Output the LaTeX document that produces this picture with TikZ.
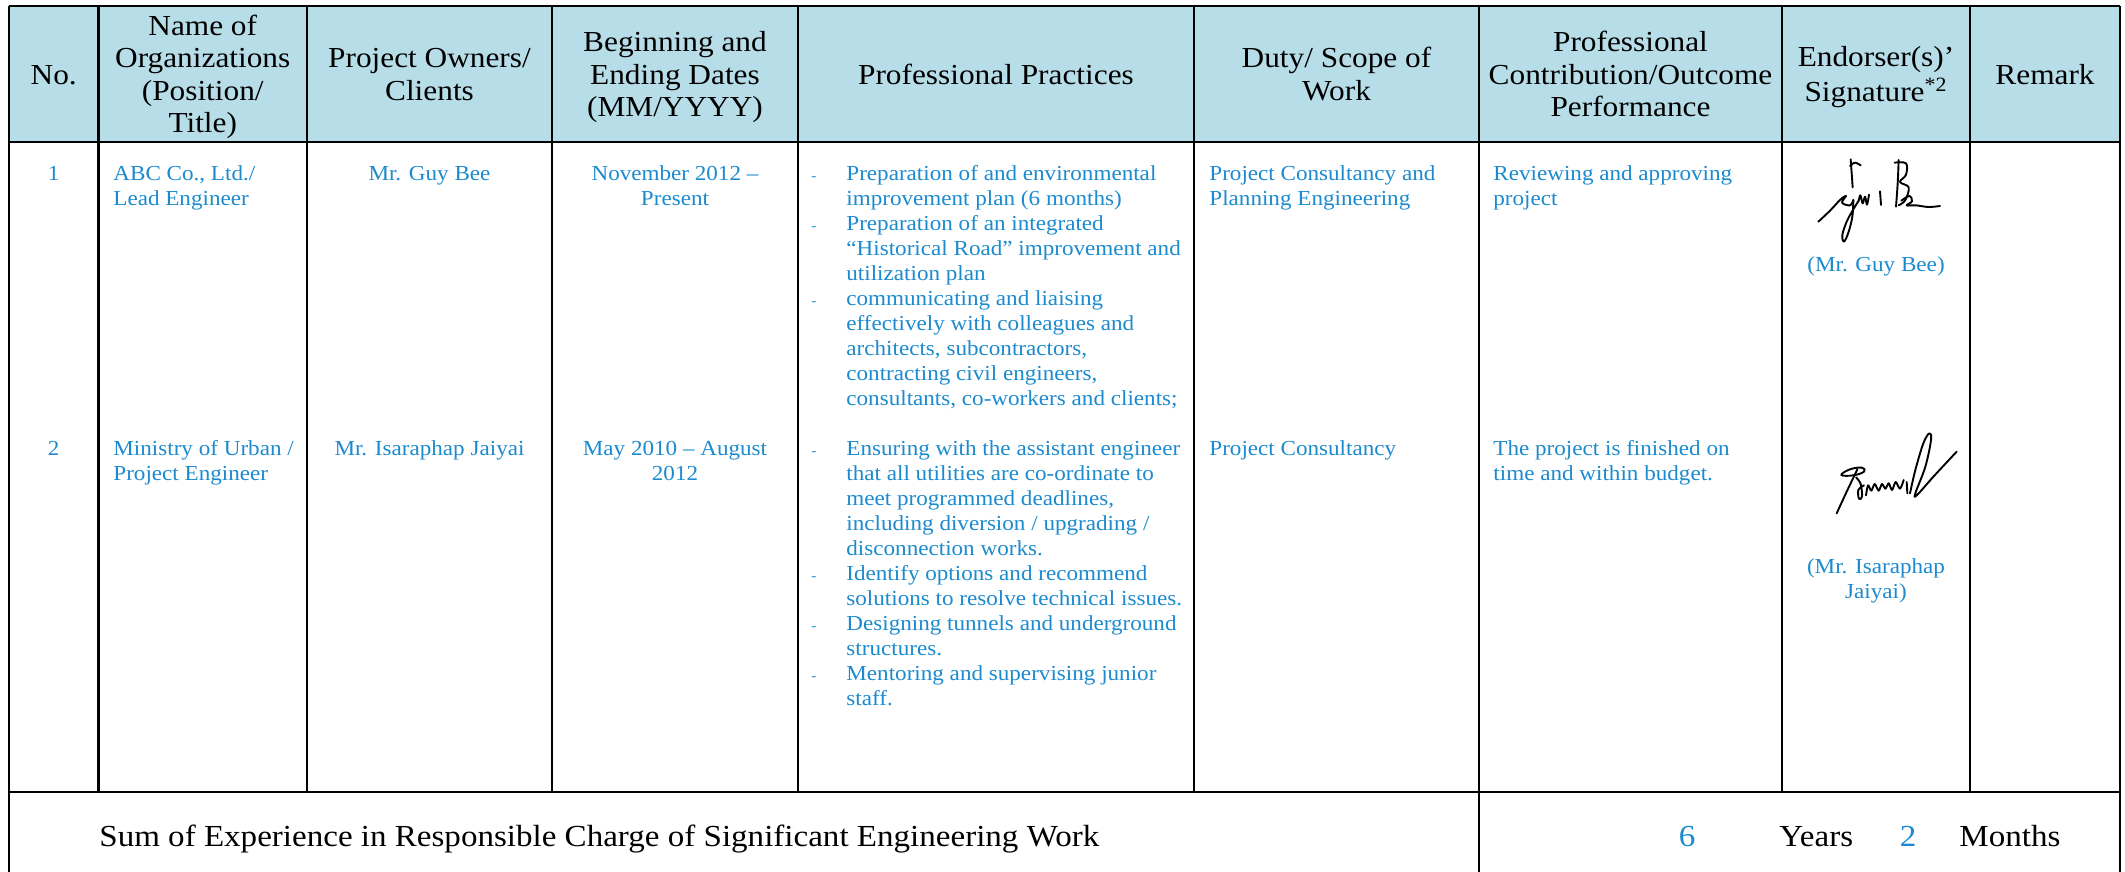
\documentclass[tikz,border=0pt]{standalone}
\usepackage{fontspec}
\setmainfont{Liberation Serif}[FakeStretch=1.08]
\definecolor{hdrfill}{HTML}{B7DEE8}
\definecolor{txtblue}{HTML}{1B8ACE}
\newcommand{\hdrfont}{\fontsize{14.5}{16.3}\selectfont}
\newcommand{\bodyfont}{\fontsize{10.7}{12.5}\selectfont}
\newcommand{\sumfont}{\fontsize{15.3}{18}\selectfont}
\newcommand{\dashfont}{\fontsize{7}{8}\selectfont}
\tikzset{
  gridline/.style={line width=1.15pt, black},
  outerline/.style={line width=1.4pt, black},
  hdr/.style={font=\hdrfont, align=center, inner sep=0pt, anchor=center},
  bodyl/.style={font=\bodyfont, text=txtblue, align=left, inner sep=0pt, anchor=north west},
  bodyc/.style={font=\bodyfont, text=txtblue, align=center, inner sep=0pt, anchor=north},
  bdash/.style={font=\dashfont, text=txtblue, inner sep=0pt, anchor=base},
  sumtxt/.style={font=\sumfont, inner sep=0pt, anchor=base west},
  sumnum/.style={font=\sumfont, text=txtblue, inner sep=0pt, anchor=base},
  sig/.style={line width=0.95pt, line cap=round, line join=round, black},
}
\begin{document}
\begin{tikzpicture}[x=0.5pt, y=-0.5pt]
\useasboundingbox (0,0) rectangle (2125,872);
% header background
\fill[hdrfill] (9,6) rectangle (2120,142);
% grid
\foreach \cx in {98.5,307,552,798,1194,1782,1970}
  \draw[gridline] (\cx,6) -- (\cx,792);
\draw[gridline] (1479,6) -- (1479,872);
\draw[outerline] (9,6) -- (2120,6);
\draw[outerline] (9,142) -- (2120,142);
\draw[outerline] (9,792) -- (2120,792);
\draw[outerline] (9,6) -- (9,872);
\draw[outerline] (2120,6) -- (2120,872);

% header texts
\node[hdr] (hno)   at (53.75,77.5)  {\strut No.};
\node[hdr] (horg)  at (202.75,77.5) {\strut Name of\\\strut Organizations\\\strut (Position/\\\strut Title)};
\node[hdr] (hown)  at (429.5,77.5)  {\strut Project Owners/\\\strut Clients};
\node[hdr] (hdate) at (675,77.5)    {\strut Beginning and\\\strut Ending Dates\\\strut (MM/YYYY)};
\node[hdr] (hprac) at (996,77.5)    {\strut Professional Practices};
\node[hdr] (hduty) at (1336.5,77.5) {\strut Duty/ Scope of\\\strut Work};
\node[hdr] (hcont) at (1630.5,77.5) {\strut Professional\\\strut Contribution/Outcome\\\strut Performance};
\node[hdr] (hsig)  at (1876,77.5)   {\strut Endorser(s)’\\\strut Signature\textsuperscript{*2}};
\node[hdr] (hrem)  at (2045,77.5)   {\strut Remark};

% row 1
\node[bodyc] (n1) at (53.75,162.5) {\strut 1};
\node[bodyl] (o1) at (113,162.5) {\strut ABC Co., Ltd./\\Lead Engineer};
\node[bodyc] (c1) at (429.5,162.5) {\strut Mr. Guy Bee};
\node[bodyc] (t1) at (675,162.5) {\strut November 2012 –\\Present};
\node[bodyl] (p1) at (846,162.5) {\strut Preparation of and environmental\\improvement plan (6 months)\\Preparation of an integrated\\“Historical Road” improvement and\\utilization plan\\communicating and liaising\\effectively with colleagues and\\architects, subcontractors,\\contracting civil engineers,\\consultants, co-workers and clients;};
\node[bdash] (d11) at (814,180) {-};
\node[bdash] (d12) at (814,230) {-};
\node[bdash] (d13) at (814,305) {-};
\node[bodyl] (s1) at (1209,162.5) {\strut Project Consultancy and\\Planning Engineering};
\node[bodyl] (r1) at (1493,162.5) {\strut Reviewing and approving\\project};
\node[bodyc, anchor=base] (e1) at (1876,271) {(Mr. Guy Bee)};

% row 2
\node[bodyc] (n2) at (53.75,437.5) {\strut 2};
\node[bodyl] (o2) at (113,437.5) {\strut Ministry of Urban /\\Project Engineer};
\node[bodyc] (c2) at (429.5,437.5) {\strut Mr. Isaraphap Jaiyai};
\node[bodyc] (t2) at (675,437.5) {\strut May 2010 – August\\2012};
\node[bodyl] (p2) at (846,437.5) {\strut Ensuring with the assistant engineer\\that all utilities are co-ordinate to\\meet programmed deadlines,\\including diversion / upgrading /\\disconnection works.\\Identify options and recommend\\solutions to resolve technical issues.\\Designing tunnels and underground\\structures.\\Mentoring and supervising junior\\staff.};
\node[bdash] (d21) at (814,455) {-};
\node[bdash] (d22) at (814,580) {-};
\node[bdash] (d23) at (814,630) {-};
\node[bdash] (d24) at (814,680) {-};
\node[bodyl] (s2) at (1209,437.5) {\strut Project Consultancy};
\node[bodyl] (r2) at (1493,437.5) {\strut The project is finished on\\time and within budget.};
\node[bodyc] (e2) at (1876,555.5) {\strut (Mr. Isaraphap\\Jaiyai)};

% summary row
\node[sumtxt] (sumlbl) at (99,846) {Sum of Experience in Responsible Charge of Significant Engineering Work};
\node[sumnum] (yrs) at (1687,846) {6};
\node[sumtxt] (yrslbl) at (1779,846) {Years};
\node[sumnum] (mos) at (1908,846) {2};
\node[sumtxt] (moslbl) at (1959,846) {Months};

% signature 1 (Guy Bee)
\begin{scope}[shift={(1800,150)}, scale=1/3]
  \draw[sig] plot[smooth, tension=0.6] coordinates {(55,215) (90,182) (122,148) (138,138) (126,158) (150,166) (160,150)};
  \draw[sig] plot[smooth, tension=0.6] coordinates {(160,150) (157,200) (145,248) (132,275) (127,255) (140,215) (160,178) (176,152)};
  \draw[sig] plot[smooth, tension=0.6] coordinates {(152,28) (155,70) (158,112)};
  \draw[sig] plot[smooth, tension=0.6] coordinates {(150,48) (165,38) (182,46)};
  \draw[sig] plot[smooth, tension=0.5] coordinates {(176,152) (181,136) (188,160) (195,140) (201,164) (207,134)};
  \draw[sig] (240,124) -- (243,165);
  \draw[sig] plot[smooth, tension=0.6] coordinates {(296,30) (293,100) (288,170)};
  \draw[sig] plot[smooth, tension=0.6] coordinates {(284,38) (318,40) (318,74) (300,96) (326,112) (316,150) (296,166)};
  \draw[sig] plot[smooth, tension=0.6] coordinates {(304,152) (328,138) (336,154) (320,166) (348,166) (385,171) (420,168)};
\end{scope}

% signature 2 (Isaraphap Jaiyai)
\begin{scope}[shift={(1800,150)}, scale=1/3]
  \draw[sig] plot[smooth, tension=0.4] coordinates {(110,1090) (140,1025) (172,958)};
  \draw[sig] plot[smooth cycle, tension=0.7] coordinates {(124,975) (150,958) (186,953) (192,965) (160,976)};
  \draw[sig] plot[smooth, tension=0.6] coordinates {(168,982) (182,1002) (186,1040) (177,1046) (175,1020) (192,1006)};
  \draw[sig] plot[smooth, tension=0.5] coordinates {(198,1036) (204,1006) (214,1022) (224,1002) (236,1022) (246,1002) (256,1016) (266,1000) (276,1020) (287,996) (300,1016) (311,990)};
  \draw[sig] (320,996) -- (322,1030);
  \draw[sig] plot[smooth, tension=0.6] coordinates {(330,1030) (346,960) (370,880) (388,850) (393,870) (376,950) (346,1030) (352,1034) (402,978) (470,905)};
\end{scope}
\end{tikzpicture}
\end{document}
